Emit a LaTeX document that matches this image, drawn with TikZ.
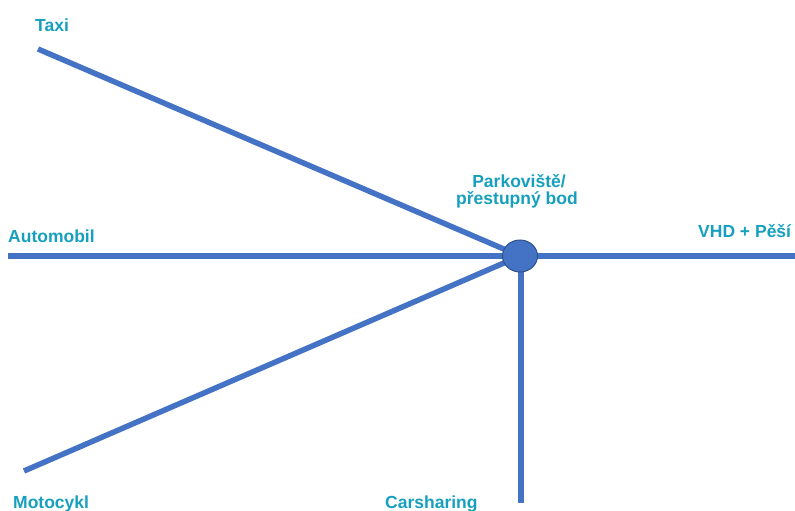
\documentclass[tikz,border=0pt]{standalone}
\usepackage{fontspec}
\setmainfont{Liberation Sans}
\usetikzlibrary{shapes.geometric}
\definecolor{linecol}{RGB}{68,114,196}
\definecolor{edgecol}{RGB}{47,82,143}
\definecolor{txtcol}{RGB}{22,160,190}
\begin{document}
\begin{tikzpicture}[x=1pt,y=-1pt,
  road/.style={draw=linecol,line width=5.5pt},
  lbl/.style={inner sep=0pt,font=\fontsize{17.5}{20}\selectfont\bfseries,text=txtcol}]
\useasboundingbox (0,0) rectangle (795,511);
\coordinate (hub) at (520,256);
\coordinate (hubS) at (521,256);
\coordinate (taxiE) at (38,49);
\coordinate (autoE) at (8,256);
\coordinate (vhdE) at (795,256);
\coordinate (motoE) at (24,471);
\coordinate (carE) at (521,503);
\draw[road] (taxiE) -- (hub);
\draw[road] (autoE) -- (vhdE);
\draw[road] (motoE) -- (hub);
\draw[road] (hubS) -- (carE);
\node[ellipse,draw=edgecol,line width=1pt,fill=linecol,minimum width=35pt,minimum height=32pt,inner sep=0pt] (node) at (hub) {};
\node[lbl,anchor=base west] (taxi) at (35,32) {Taxi};
\node[lbl,anchor=base west] (auto) at (8,242) {Automobil};
\node[lbl,anchor=base west] (vhd) at (698,237) {VHD + Pěší};
\node[lbl,anchor=base] (park1) at (519,187) {Parkoviště/};
\node[lbl,anchor=base] (park2) at (517,204) {přestupný bod};
\node[lbl,anchor=base west] (moto) at (13,508) {Motocykl};
\node[lbl,anchor=base west] (car) at (385,508) {Carsharing};
\end{tikzpicture}
\end{document}
